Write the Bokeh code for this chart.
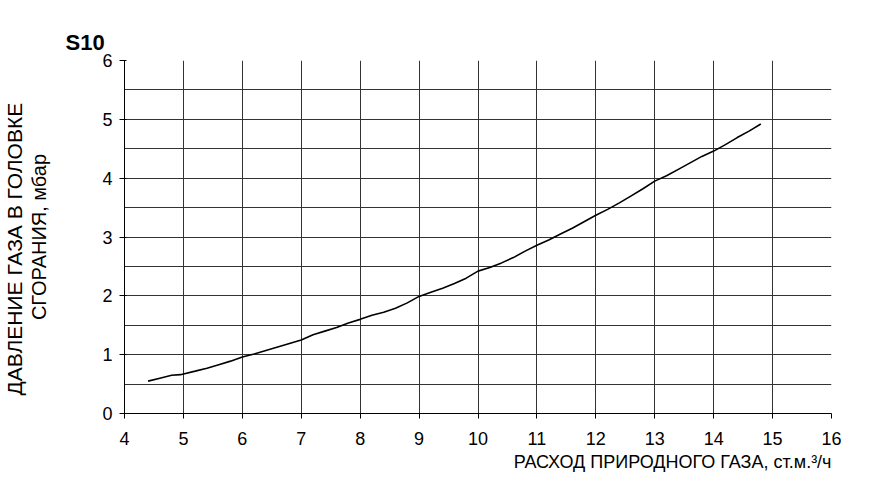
import numpy as np
from bokeh.plotting import figure
from bokeh.models import Range1d, FixedTicker, Title
from bokeh.embed import file_html
from bokeh.resources import INLINE

title_text = "S10"
x_label = "РАСХОД ПРИРОДНОГО ГАЗА, ст.м.³/ч"
y_label_1 = "ДАВЛЕНИЕ ГАЗА В ГОЛОВКЕ"
y_label_2 = "СГОРАНИЯ, мбар"

x_ticks = list(range(4, 17))
y_ticks = list(range(0, 7))
y_grid = [i * 0.5 for i in range(0, 13)]

flow = [4.4, 4.6, 4.8, 4.95, 5.2, 5.4, 5.6, 5.8, 6.0, 6.2, 6.4, 6.6, 6.8, 7.0,
        7.2, 7.4, 7.6, 7.8, 8.0, 8.2, 8.4, 8.6, 8.8, 9.0, 9.2, 9.4, 9.6, 9.8,
        10.0, 10.2, 10.4, 10.6, 10.8, 11.0, 11.2, 11.4, 11.6, 11.8, 12.0, 12.2,
        12.4, 12.6, 12.8, 13.0, 13.2, 13.4, 13.6, 13.8, 14.0, 14.2, 14.4, 14.6, 14.8]
pressure = [0.55, 0.60, 0.65, 0.66, 0.72, 0.77, 0.83, 0.89, 0.96, 1.01, 1.07, 1.13,
            1.19, 1.25, 1.34, 1.40, 1.46, 1.54, 1.60, 1.67, 1.72, 1.79, 1.88, 1.99,
            2.06, 2.13, 2.21, 2.30, 2.42, 2.48, 2.56, 2.65, 2.76, 2.86, 2.95, 3.05,
            3.15, 3.26, 3.37, 3.47, 3.58, 3.70, 3.82, 3.95, 4.04, 4.15, 4.26, 4.37,
            4.46, 4.57, 4.69, 4.80, 4.92]

FONT = "Liberation Sans"

p = figure(width=861, height=474, output_backend="svg", toolbar_location=None,
           x_range=Range1d(4, 16), y_range=Range1d(0, 6),
           min_border_left=124, min_border_right=30, min_border_top=60, min_border_bottom=61)
p.outline_line_color = None
p.background_fill_color = "white"
p.border_fill_color = "white"

p.xaxis.ticker = FixedTicker(ticks=x_ticks)
p.yaxis.ticker = FixedTicker(ticks=y_ticks)
p.xgrid.ticker = FixedTicker(ticks=x_ticks)
p.ygrid.ticker = FixedTicker(ticks=y_grid)
for g in (p.xgrid, p.ygrid):
    g.grid_line_color = "#333333"
    g.grid_line_width = 1
    g.grid_line_alpha = 1.0

for ax in (p.xaxis, p.yaxis):
    ax.axis_line_color = "black"
    ax.axis_line_width = 1
    ax.major_tick_line_color = "black"
    ax.minor_tick_line_color = None
    ax.major_label_text_font = FONT
    ax.major_label_text_font_size = "18px"
    ax.major_label_text_color = "black"
    ax.major_label_text_font_style = "normal"

p.xaxis.major_tick_out = 5
p.xaxis.major_tick_in = 0
p.xaxis.major_label_standoff = 13
p.yaxis.major_tick_out = 5
p.yaxis.major_tick_in = 2
p.yaxis.major_label_standoff = 7

p.yaxis.axis_label = y_label_2
p.yaxis.axis_label_text_font = FONT
p.yaxis.axis_label_text_font_size = "20px"
p.yaxis.axis_label_text_font_style = "normal"
p.yaxis.axis_label_text_color = "black"
p.yaxis.axis_label_standoff = 49

p.line(flow, pressure, line_color="black", line_width=1.6)

p.add_layout(Title(text=title_text, align="left", offset=-59, standoff=12,
                   text_font=FONT, text_font_style="bold", text_font_size="22px",
                   text_color="black"), "above")
p.add_layout(Title(text=x_label, align="right", offset=0, standoff=5,
                   text_font=FONT, text_font_style="normal", text_font_size="18px",
                   text_color="black"), "below")
p.add_layout(Title(text=y_label_1, align="left", offset=18, standoff=0,
                   text_font=FONT, text_font_style="normal", text_font_size="21px",
                   text_color="black"), "left")

open("out.html", "w").write(file_html(p, INLINE))
